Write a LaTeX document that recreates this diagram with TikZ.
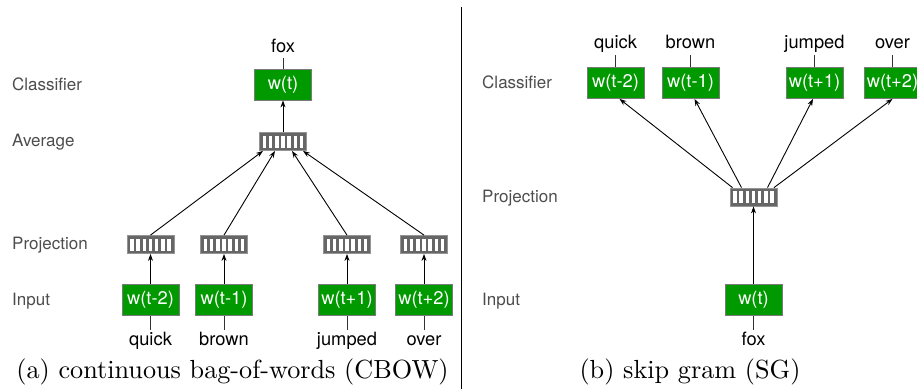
\documentclass[tikz,border=0pt]{standalone}
\usepackage{fontspec}
\newfontfamily\hv{TeX Gyre Heros}
\usetikzlibrary{arrows.meta,calc}
\definecolor{boxgreen}{HTML}{009900}
\definecolor{boxedge}{HTML}{7A7A7A}
\definecolor{projgray}{HTML}{666666}
\definecolor{labgray}{HTML}{4D4D4D}
\begin{document}
\begin{tikzpicture}[x=1pt,y=-1pt,
  sansfont/.style={font=\hv\fontsize{17}{20}\selectfont},
  bigsans/.style={font=\hv\fontsize{18.3}{21}\selectfont},
  wbox/.style={rectangle, fill=boxgreen, draw=boxedge, line width=0.8pt,
    minimum width=57pt, minimum height=31pt, inner sep=0pt, text=white, bigsans},
  projbox/.style={rectangle, fill=projgray, draw=projgray!70!white, line width=0.8pt,
    minimum width=47pt, minimum height=18pt, inner sep=0pt,
    path picture={
      \foreach \i in {0,...,6}
        \fill[white] ($(path picture bounding box.north west)+(3.3+\i*6.17,3)$) rectangle ++(3.4,12);
    }},
  layerlab/.style={anchor=base west, text=labgray, inner sep=0pt, sansfont},
  word/.style={anchor=base, inner sep=2pt, text height=13pt, text depth=3.8pt, bigsans},
  arr/.style={-{Stealth[length=7pt,width=5pt]}, line width=0.9pt},
  tick/.style={line width=0.9pt, draw=black!80},
  caption/.style={scale=2.62, inner sep=0pt}
]
\useasboundingbox (0,0) rectangle (917,389);

% ---------------- left: CBOW ----------------
\node[layerlab] (L_lc) at (12,90) {Classifier};
\node[layerlab] (L_la) at (12,146) {Average};
\node[layerlab] (L_lp) at (12,249) {Projection};
\node[layerlab] (L_li) at (12,305.5) {Input};

\node[word] (L_fox) at (283,52) {fox};
\node[wbox] (L_out) at (283,84.5) {w(t)};
\node[projbox] (L_avg) at (283,141.5) {};

\node[projbox] (L_p1) at (150.5,244.5) {};
\node[projbox] (L_p2) at (224,244.5) {};
\node[projbox] (L_p3) at (347,244.5) {};
\node[projbox] (L_p4) at (424,244.5) {};

\node[wbox] (L_in1) at (150.5,300) {w(t-2)};
\node[wbox] (L_in2) at (224,300) {w(t-1)};
\node[wbox] (L_in3) at (347,300) {w(t+1)};
\node[wbox] (L_in4) at (424,300) {w(t+2)};

\node[word] (L_w1) at (150.5,345) {quick};
\node[word] (L_w2) at (224,345) {brown};
\node[word] (L_w3) at (347,345) {jumped};
\node[word] (L_w4) at (424,345) {over};

\draw[tick] (L_fox.south) -- (L_out.north);
\draw[arr] (L_avg.north) -- (L_out.south);
\foreach \k in {1,...,4} {
  \draw[arr] (L_in\k.north) -- (L_p\k.south);
  \draw[tick] (L_in\k.south) -- (L_w\k.north);
}
\draw[arr] (L_p1.north) -- ($(L_avg.south)+(-20,0)$);
\draw[arr] (L_p2.north) -- ($(L_avg.south)+(-8,0)$);
\draw[arr] (L_p3.north) -- ($(L_avg.south)+(9,0)$);
\draw[arr] (L_p4.north) -- ($(L_avg.south)+(20,0)$);

\node[caption] (capa) at (232.5,372) {(a) continuous bag-of-words (CBOW)};

% divider
\coordinate (dtop) at (461.5,7);
\coordinate (dbot) at (461.5,389);
\draw[line width=1pt] (dtop) -- (dbot);

% ---------------- right: skip gram ----------------
\node[layerlab] (R_lc) at (482,88) {Classifier};
\node[layerlab] (R_lp) at (482,202.5) {Projection};
\node[layerlab] (R_li) at (482,305.5) {Input};

\node[word] (R_w1) at (615.5,48.5) {quick};
\node[word] (R_w2) at (690.5,48.5) {brown};
\node[word] (R_w3) at (814.5,48.5) {jumped};
\node[word] (R_w4) at (892.5,48.5) {over};

\node[wbox] (R_o1) at (615.5,83) {w(t-2)};
\node[wbox] (R_o2) at (690.5,83) {w(t-1)};
\node[wbox] (R_o3) at (814.5,83) {w(t+1)};
\node[wbox] (R_o4) at (892.5,83) {w(t+2)};

\node[projbox] (R_p) at (753.5,197) {};
\node[wbox] (R_in) at (753.5,300) {w(t)};
\node[word] (R_fox) at (753.5,345) {fox};

\foreach \k in {1,...,4}
  \draw[tick] (R_o\k.north) -- (R_w\k.south);
\draw[arr] (R_in.north) -- (R_p.south);
\draw[tick] (R_in.south) -- (R_fox.north);
\draw[arr] ($(R_p.north)+(-21,0)$) -- ($(R_o1.south)+(4,0)$);
\draw[arr] ($(R_p.north)+(-12,0)$) -- ($(R_o2.south)+(4,0)$);
\draw[arr] ($(R_p.north)+(14,0)$) -- ($(R_o3.south)+(-1.5,0)$);
\draw[arr] ($(R_p.north)+(20.5,0)$) -- (R_o4.south);

\node[caption] (capb) at (690,372) {(b) skip gram (SG)};
\end{tikzpicture}
\end{document}
